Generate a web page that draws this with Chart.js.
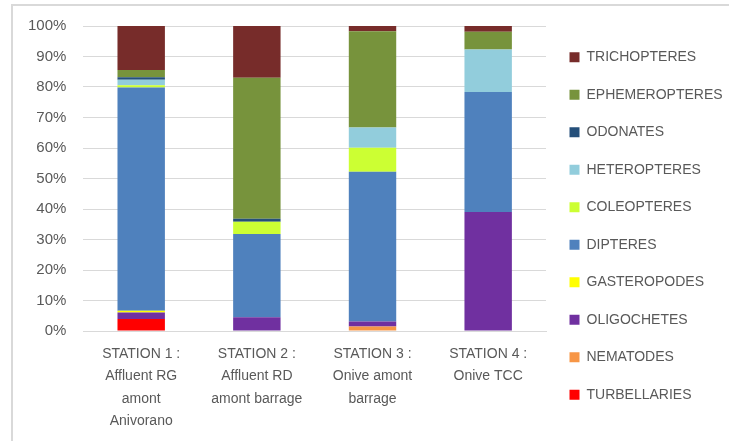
<!DOCTYPE html>
<html>
<head>
<meta charset="utf-8">
<script src="https://cdn.jsdelivr.net/npm/chart.js@4"></script>
<style>
  body { margin: 0; background: #fff; overflow: hidden; }
  #frame { position: absolute; left: 11px; top: 4px; width: 900px; height: 600px; border: 2px solid #d9d9d9; }
  #myChart { position: absolute; left: 0; top: 0; }
</style>
</head>
<body>
<div id="frame"></div>
<canvas id="myChart" width="729" height="441"></canvas>
<script>
const stations = [
  ["STATION 1 :", "Affluent RG", "amont", "Anivorano"],
  ["STATION 2 :", "Affluent RD", "amont barrage"],
  ["STATION 3 :", "Onive amont", "barrage"],
  ["STATION 4 :", "Onive TCC"]
];

// stacked from the bottom up
const turbellaries = [3.9, 0, 0, 0];
const nematodes = [0, 0, 1.5, 0];
const oligochetes = [2.2, 4.5, 1.6, 39.0];
const gasteropodes = [0.5, 0, 0, 0];
const dipteres = [73.2, 27.3, 49.1, 39.4];
const coleopteres = [0.8, 4.0, 7.9, 0];
const heteropteres = [1.8, 0, 6.6, 13.9];
const odonates = [0.8, 1.0, 0, 0];
const ephemeropteres = [2.4, 46.2, 31.6, 5.8];
const trichopteres = [14.4, 17.0, 1.7, 1.9];

const yTicks = [0, 10, 20, 30, 40, 50, 60, 70, 80, 90, 100];

const textColor = '#595959';
const gridColor = '#d9d9d9';

function ds(label, data, color) {
  return { label: label, data: data, backgroundColor: color, borderWidth: 0 };
}

const ctx = document.getElementById('myChart');
new Chart(ctx, {
  type: 'bar',
  data: {
    labels: stations,
    datasets: [
      ds('TURBELLARIES', turbellaries, '#ff0000'),
      ds('NEMATODES', nematodes, '#f79646'),
      ds('OLIGOCHETES', oligochetes, '#7030a0'),
      ds('GASTEROPODES', gasteropodes, '#ffff00'),
      ds('DIPTERES', dipteres, '#4f81bd'),
      ds('COLEOPTERES', coleopteres, '#ccff33'),
      ds('HETEROPTERES', heteropteres, '#92cddc'),
      ds('ODONATES', odonates, '#254f7a'),
      ds('EPHEMEROPTERES', ephemeropteres, '#77933c'),
      ds('TRICHOPTERES', trichopteres, '#772c2a')
    ]
  },
  options: {
    responsive: false,
    animation: false,
    events: [],
    layout: { padding: { left: 11, top: 23, right: 0, bottom: 12 } },
    datasets: { bar: { categoryPercentage: 1, barPercentage: 0.41 } },
    plugins: {
      tooltip: { enabled: false },
      legend: {
        position: 'right',
        reverse: true,
        maxWidth: 183,
        labels: {
          boxWidth: 10,
          boxHeight: 10,
          padding: 23.5,
          color: textColor,
          font: { family: "'Liberation Sans', Arial, sans-serif", size: 14 }
        }
      }
    },
    scales: {
      x: {
        stacked: true,
        afterFit: function (axis) { axis.height = 98; },
        grid: { display: false, drawTicks: false },
        border: { display: true, color: gridColor, width: 1 },
        ticks: {
          padding: 12,
          maxRotation: 0,
          autoSkip: false,
          color: textColor,
          font: { family: "'Liberation Sans', Arial, sans-serif", size: 14, lineHeight: 1.6 }
        }
      },
      y: {
        stacked: true,
        min: 0,
        max: 100,
        afterBuildTicks: function (axis) {
          axis.ticks = yTicks.map(v => ({ value: v }));
        },
        grid: { color: gridColor, lineWidth: 1, drawTicks: false },
        border: { display: false },
        ticks: {
          padding: 17,
          color: textColor,
          font: { family: "'Liberation Sans', Arial, sans-serif", size: 15 },
          callback: function (v) { return v + '%'; }
        }
      }
    }
  }
});
</script>
</body>
</html>
